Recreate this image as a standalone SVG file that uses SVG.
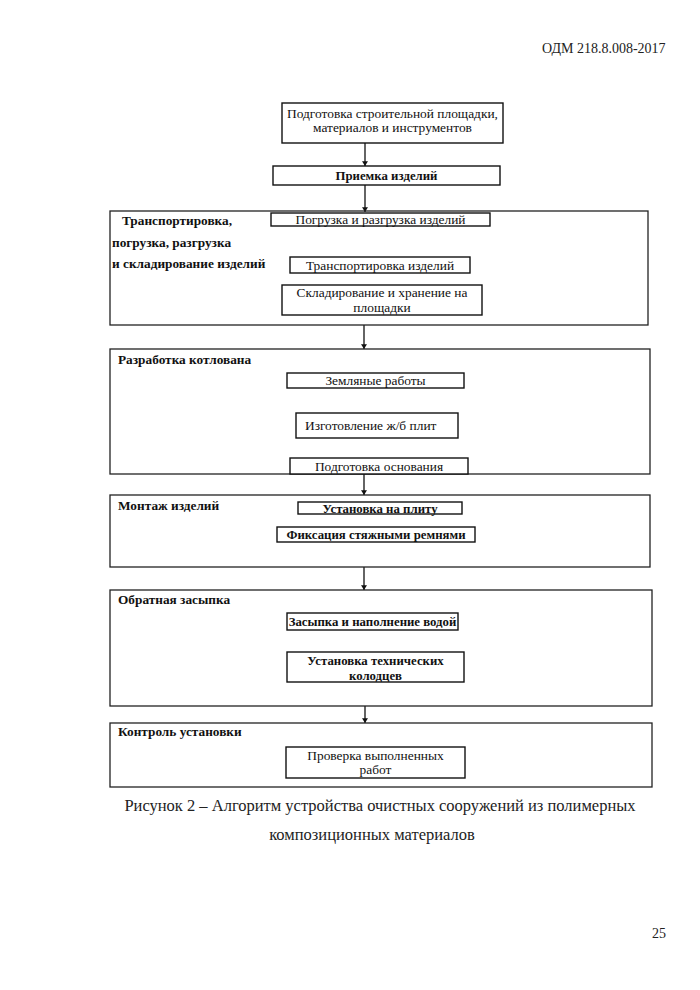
<svg xmlns="http://www.w3.org/2000/svg" width="700" height="990" viewBox="0 0 700 990">
<style>
.bg{fill:#fff}
.box{fill:#fff;stroke:#111;stroke-width:1.4}
.grp{fill:none;stroke:#222;stroke-width:1.3}
.t{font-family:"Liberation Serif","Times New Roman",serif;font-size:13.4px;fill:#111;text-anchor:middle}
.b{font-weight:bold;font-size:12.8px}
.lbl{font-family:"Liberation Serif","Times New Roman",serif;font-size:13.3px;font-weight:bold;fill:#111}
.cap{font-family:"Liberation Serif","Times New Roman",serif;font-size:16.5px;fill:#222;text-anchor:middle}
.hdr{font-family:"Liberation Serif","Times New Roman",serif;font-size:14px;fill:#222}
.con{stroke:#111;stroke-width:1.3;fill:none}
</style>
<defs>
<marker id="ah" viewBox="0 0 8 10" refX="8" refY="5" markerWidth="5" markerHeight="6" markerUnits="userSpaceOnUse" orient="auto">
<path d="M0,0 L8,5 L0,10 z" fill="#111"/>
</marker>
</defs>
<rect class="bg" x="0" y="0" width="700" height="990"/>
<text class="hdr" x="542" y="53">ОДМ 218.8.008-2017</text>

<g id="connectors">
<line class="con" x1="365" y1="143" x2="365" y2="166" marker-end="url(#ah)"/>
<line class="con" x1="365" y1="185" x2="365" y2="212" marker-end="url(#ah)"/>
<line class="con" x1="364" y1="325" x2="364" y2="349" marker-end="url(#ah)"/>
<line class="con" x1="364" y1="474" x2="364" y2="495" stroke-width="0.9" marker-end="url(#ah)"/>
<line class="con" x1="364" y1="567" x2="364" y2="590" marker-end="url(#ah)"/>
<line class="con" x1="365" y1="706" x2="365" y2="723" marker-end="url(#ah)"/>
</g>

<g id="n-prep">
<rect class="box" x="282" y="103" width="221" height="40"/>
<text class="t" x="392.5" y="118">Подготовка строительной площадки,</text>
<text class="t" x="392.5" y="132">материалов и инструментов</text>
</g>
<g id="n-priemka">
<rect class="box" x="273" y="166" width="227" height="19"/>
<text class="t b" x="386.5" y="180">Приемка изделий</text>
</g>

<g id="g-transport">
<rect class="grp" x="110" y="211" width="538" height="114"/>
<text class="lbl" x="122" y="225">Транспортировка,</text>
<text class="lbl" x="112" y="247">погрузка, разгрузка</text>
<text class="lbl" x="112" y="268">и складирование изделий</text>
</g>
<g id="n-pogruzka">
<rect class="box" x="271" y="213" width="219" height="13"/>
<text class="t" x="380.5" y="224">Погрузка и разгрузка изделий</text>
</g>
<g id="n-transp">
<rect class="box" x="290" y="257" width="180" height="16"/>
<text class="t" x="380" y="269.5">Транспортировка изделий</text>
</g>
<g id="n-sklad">
<rect class="box" x="282" y="285" width="200" height="30"/>
<text class="t" x="382" y="296.5">Складирование и хранение на</text>
<text class="t" x="382" y="311.5">площадки</text>
</g>

<g id="g-kotlovan">
<rect class="grp" x="110" y="349" width="540" height="125"/>
<text class="lbl" x="118" y="364">Разработка котлована</text>
</g>
<g id="n-zemlya">
<rect class="box" x="287" y="373" width="177" height="15"/>
<text class="t" x="375.5" y="385">Земляные работы</text>
</g>
<g id="n-plity">
<rect class="box" x="296" y="413" width="162" height="25"/>
<text class="t" x="305" y="430" style="text-anchor:start">Изготовление ж/б плит</text>
</g>
<g id="n-osnova">
<rect class="box" x="290" y="458" width="178" height="16"/>
<text class="t" x="379" y="470.5">Подготовка основания</text>
</g>

<g id="g-montazh">
<rect class="grp" x="110" y="495" width="540" height="72"/>
<text class="lbl" x="118" y="510">Монтаж изделий</text>
</g>
<g id="n-ustanovka">
<rect class="box" x="298" y="502" width="164" height="12"/>
<text class="t b" x="380" y="512.5">Установка на плиту</text>
</g>
<g id="n-fiks">
<rect class="box" x="277" y="527" width="198" height="15"/>
<text class="t b" x="376" y="539">Фиксация стяжными ремнями</text>
</g>

<g id="g-zasypka">
<rect class="grp" x="110" y="590" width="542" height="116"/>
<text class="lbl" x="118" y="604">Обратная засыпка</text>
</g>
<g id="n-voda">
<rect class="box" x="287" y="613" width="171" height="17"/>
<text class="t b" x="372.5" y="625.5">Засыпка и наполнение водой</text>
</g>
<g id="n-kolodcy">
<rect class="box" x="287" y="652" width="177" height="30"/>
<text class="t b" x="375.5" y="665">Установка технических</text>
<text class="t b" x="375.5" y="680">колодцев</text>
</g>

<g id="g-kontrol">
<rect class="grp" x="110" y="723" width="542" height="64"/>
<text class="lbl" x="118" y="736">Контроль установки</text>
</g>
<g id="n-proverka">
<rect class="box" x="286" y="747" width="179" height="31"/>
<text class="t" x="375.5" y="759.5">Проверка выполненных</text>
<text class="t" x="375.5" y="773.5">работ</text>
</g>

<text class="cap" x="380" y="811">Рисунок 2 – Алгоритм устройства очистных сооружений из полимерных</text>
<text class="cap" x="372" y="840">композиционных материалов</text>
<text class="hdr" x="652" y="938">25</text>
</svg>
